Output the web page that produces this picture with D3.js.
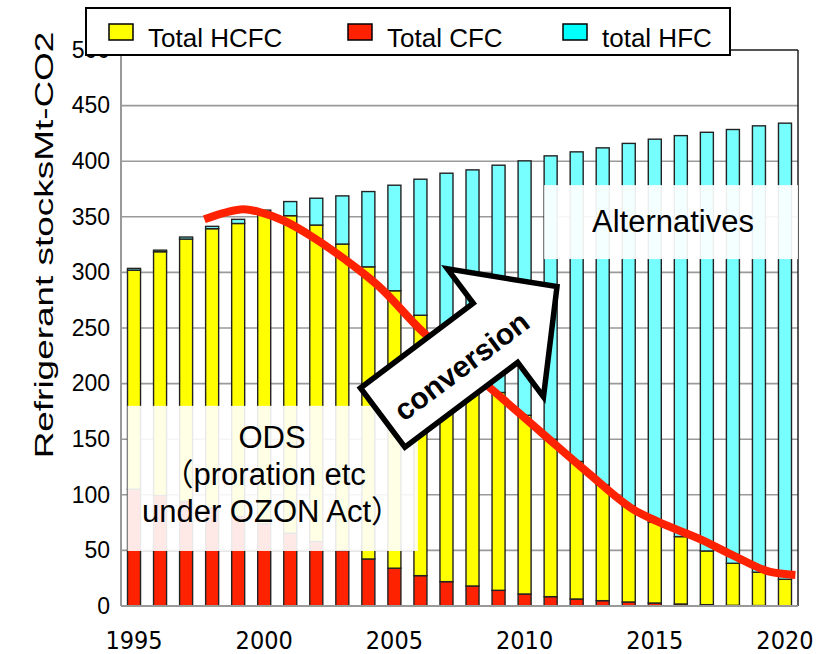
<!DOCTYPE html>
<html>
<head>
<meta charset="utf-8">
<script src="https://cdn.jsdelivr.net/npm/d3@7"></script>
<style>
    body { margin: 0; background: #fff; }
    #chart-area { width: 817px; height: 654px; }
    text { font-family: "Liberation Sans", Arial, sans-serif; fill: #000; }
    .x-label { font-family: "Liberation Sans Narrow", "DejaVu Sans Condensed", sans-serif; }
    .note { font-family: "Liberation Sans", "Noto Sans CJK JP", sans-serif; }
</style>
</head>
<body>
<div id="chart-area"></div>
<script>

// Stocks by year, Mt-CO2
var years = [1995, 1996, 1997, 1998, 1999, 2000, 2001, 2002, 2003, 2004, 2005, 2006, 2007,
    2008, 2009, 2010, 2011, 2012, 2013, 2014, 2015, 2016, 2017, 2018, 2019, 2020];
var cfc = [105, 99.4, 94, 88, 80.5, 74, 65.5, 58, 50, 42.3, 34, 27.3, 21.9,
    18, 14.1, 10.8, 8.4, 6.3, 4.8, 3.6, 2.7, 1.8, 1.2, 0.6, 0.4, 0.2];
var hcfc = [197, 219.2, 236, 251.3, 263.5, 280, 285.5, 284.6, 275.5, 262.7, 249.5, 234.2, 216.6,
    197, 177.9, 160.7, 141.6, 123.7, 104.2, 86.4, 72.7, 60.6, 48.3, 37.8, 30, 23.8];
var hfc = [1.6, 1.4, 1.8, 2.1, 3.7, 2, 12.7, 24.1, 43.3, 67.7, 94.9, 122.3, 150.7,
    177.2, 204.4, 228.8, 254.8, 278.4, 303, 326, 344.4, 360.6, 376.5, 390.1, 401.4, 410.2];

// hand-drawn ODS trend (year, value)
var trendYears = [1997.7, 1998.5, 1999.2, 1999.9, 2000.8, 2001.8, 2003.1, 2004.4, 2006.0, 2008.6,
    2010.65, 2012.45, 2014.2, 2015.1, 2016.8, 2018.1, 2019.4, 2020.4];
var trendValues = [347.7, 353.8, 356.8, 353.8, 346, 332.7, 311.7, 287.6, 248.6, 197.6,
    155.9, 119.5, 86.5, 76, 59.5, 44.4, 30.9, 27.9];

var yTicks = [0, 50, 100, 150, 200, 250, 300, 350, 400, 450, 500];
var xTickYears = [1995, 2000, 2005, 2010, 2015, 2020];

var legendNames = ["Total HCFC", "Total CFC", "total HFC"];
var legendColors = ["#ffff00", "#ff2200", "#00ffff"];


StockChart = function(_parentElement) {
    this.parentElement = _parentElement;
    this.displayData = [];

    this.initVis();
}

StockChart.prototype.initVis = function() {
    var vis = this;

    vis.margin = { top: 50, right: 19, bottom: 48, left: 121 };
    vis.width = 817 - vis.margin.left - vis.margin.right;
    vis.height = 654 - vis.margin.top - vis.margin.bottom;

    vis.root = d3.select('#' + vis.parentElement)
        .append('svg')
        .attr('width', 817)
        .attr('height', 654);

    vis.svg = vis.root.append('g')
        .attr('transform', 'translate(' + vis.margin.left + ',' + vis.margin.top + ')');

    vis.x = d3.scaleBand()
        .domain(years)
        .range([0, vis.width])
        .paddingInner(0.5)
        .paddingOuter(0.25);

    // continuous year scale lined up with the band centres
    vis.xYear = d3.scaleLinear()
        .domain([1995, 2020])
        .range([vis.x(1995) + vis.x.bandwidth() / 2, vis.x(2020) + vis.x.bandwidth() / 2]);

    vis.y = d3.scaleLinear()
        .domain([0, 500])
        .range([vis.height, 0]);

    vis.wrangleData();
}

StockChart.prototype.wrangleData = function() {
    var vis = this;

    vis.displayData = years.map(function(d, i) {
        return { year: d, cfc: cfc[i], hcfc: hcfc[i], hfc: hfc[i] };
    });

    vis.stacked = d3.stack().keys(['cfc', 'hcfc', 'hfc'])(vis.displayData);

    vis.trend = trendYears.map(function(d, i) {
        return { year: d, value: trendValues[i] };
    });

    vis.updateVis();
}

StockChart.prototype.updateVis = function() {
    var vis = this;
    var fills = { cfc: '#ff2200', hcfc: '#ffff00', hfc: '#77ffff' };

    // gridlines
    vis.svg.append('g')
        .selectAll('line')
        .data(yTicks.slice(1))
        .enter()
        .append('line')
        .attr('x1', 0)
        .attr('x2', vis.width)
        .attr('y1', function(d) { return vis.y(d); })
        .attr('y2', function(d) { return vis.y(d); })
        .attr('stroke', '#9a9a9a')
        .attr('stroke-width', 1.6);

    // stacked bars
    vis.svg.append('g')
        .selectAll('g')
        .data(vis.stacked)
        .enter()
        .append('g')
        .attr('fill', function(d) { return fills[d.key]; })
        .selectAll('rect')
        .data(function(d) { return d; })
        .enter()
        .append('rect')
        .attr('x', function(d) { return vis.x(d.data.year); })
        .attr('width', vis.x.bandwidth())
        .attr('y', function(d) { return vis.y(d[1]); })
        .attr('height', function(d) { return vis.y(d[0]) - vis.y(d[1]); })
        .attr('stroke', '#222')
        .attr('stroke-width', 1.4);

    // frame: grey axes left/bottom, dark top/right
    vis.svg.append('line')
        .attr('x1', 0).attr('x2', vis.width)
        .attr('y1', 0).attr('y2', 0)
        .attr('stroke', '#333').attr('stroke-width', 1.5);
    vis.svg.append('line')
        .attr('x1', vis.width).attr('x2', vis.width)
        .attr('y1', 0).attr('y2', vis.height)
        .attr('stroke', '#222').attr('stroke-width', 1.5);
    vis.svg.append('line')
        .attr('x1', 0).attr('x2', 0)
        .attr('y1', 0).attr('y2', vis.height)
        .attr('stroke', '#999').attr('stroke-width', 2);
    vis.svg.append('line')
        .attr('x1', 0).attr('x2', vis.width)
        .attr('y1', vis.height).attr('y2', vis.height)
        .attr('stroke', '#999').attr('stroke-width', 2);

    // Axes
    var yAxis = d3.axisLeft(vis.y).tickValues(yTicks).tickSize(0).tickPadding(11);
    var yg = vis.svg.append('g').call(yAxis);
    yg.select('.domain').remove();
    yg.selectAll('text')
        .attr('font-size', 23)
        .attr('font-family', '"Liberation Sans", Arial, sans-serif')
        .attr('fill', '#000');

    var xAxis = d3.axisBottom(vis.x).tickValues(xTickYears).tickSize(0).tickPadding(25);
    var xg = vis.svg.append('g')
        .attr('transform', 'translate(0,' + vis.height + ')')
        .call(xAxis);
    xg.select('.domain').remove();
    xg.selectAll('text')
        .attr('class', 'x-label')
        .attr('font-size', 25)
        .attr('font-family', '"Liberation Sans Narrow", "DejaVu Sans Condensed", sans-serif')
        .attr('fill', '#000');

    // Axis title (stretched along its length like the original)
    vis.root.append('text')
        .attr('transform', 'translate(53,245) rotate(-90) scale(1.42,1)')
        .attr('text-anchor', 'middle')
        .attr('font-size', 26)
        .text('Refrigerant stocksMt-CO2');

    // ODS note box
    var odsX0 = vis.xYear(1994.75), odsX1 = vis.xYear(2005.9);
    vis.svg.append('rect')
        .attr('x', odsX0)
        .attr('y', vis.y(180))
        .attr('width', odsX1 - odsX0)
        .attr('height', vis.y(49.5) - vis.y(180))
        .attr('fill', '#fff')
        .attr('fill-opacity', 0.9);

    var odsLines = ['ODS', '（proration etc', 'under OZON Act）'];
    vis.svg.append('text')
        .attr('class', 'note')
        .attr('x', vis.xYear(2000.3))
        .attr('y', vis.y(142))
        .attr('text-anchor', 'middle')
        .attr('font-size', 31)
        .selectAll('tspan')
        .data(odsLines)
        .enter()
        .append('tspan')
        .attr('x', function(d, i) { return vis.xYear(i === 1 ? 2000.0 : 2000.3); })
        .attr('dy', function(d, i) { return i === 0 ? 0 : 37; })
        .text(function(d) { return d; });

    // Alternatives note box
    var altX0 = vis.xYear(2010.75);
    vis.svg.append('rect')
        .attr('x', altX0)
        .attr('y', vis.y(378.5))
        .attr('width', vis.width - altX0)
        .attr('height', vis.y(312) - vis.y(378.5))
        .attr('fill', '#fff')
        .attr('fill-opacity', 0.92);

    vis.svg.append('text')
        .attr('class', 'note')
        .attr('x', vis.xYear(2015.7))
        .attr('y', vis.y(336))
        .attr('text-anchor', 'middle')
        .attr('font-size', 31)
        .text('Alternatives');

    // ODS trend line
    var line = d3.line()
        .x(function(d) { return vis.xYear(d.year); })
        .y(function(d) { return vis.y(d.value); })
        .curve(d3.curveMonotoneX);

    vis.svg.append('path')
        .datum(vis.trend)
        .attr('d', line)
        .attr('fill', 'none')
        .attr('stroke', '#ff2200')
        .attr('stroke-width', 8);

    // conversion arrow, drawn along its own axis then rotated
    var shaftLen = 141, tipLen = 218, halfShaft = 37, halfHead = 80;
    var arrowPts = [
        [0, -halfShaft], [shaftLen, -halfShaft], [shaftLen, -halfHead],
        [tipLen, 0],
        [shaftLen, halfHead], [shaftLen, halfShaft], [0, halfShaft]
    ];
    var arrow = vis.svg.append('g')
        .attr('transform', 'translate(' + vis.xYear(2004.55) + ',' + vis.y(169.5) + ') rotate(-36.9)');

    arrow.append('path')
        .attr('d', d3.line()(arrowPts) + 'Z')
        .attr('fill', '#fff')
        .attr('stroke', '#000')
        .attr('stroke-width', 5.5)
        .attr('stroke-linejoin', 'miter');

    arrow.append('text')
        .attr('x', 94)
        .attr('y', 6)
        .attr('dy', '0.35em')
        .attr('text-anchor', 'middle')
        .attr('font-size', 30)
        .attr('font-weight', 'bold')
        .text('conversion');

    // Legend
    var legend = vis.root.append('g');
    legend.append('rect')
        .attr('x', 86).attr('y', 8)
        .attr('width', 644).attr('height', 47)
        .attr('fill', '#fff')
        .attr('stroke', '#000')
        .attr('stroke-width', 2);

    var legendX = [109, 348, 563];
    var item = legend.selectAll('.legend-item')
        .data(legendNames)
        .enter()
        .append('g')
        .attr('class', 'legend-item')
        .attr('transform', function(d, i) { return 'translate(' + legendX[i] + ',0)'; });

    item.append('rect')
        .attr('x', 0).attr('y', 24)
        .attr('width', 24).attr('height', 16)
        .attr('fill', function(d, i) { return legendColors[i]; })
        .attr('stroke', '#000')
        .attr('stroke-width', 1.5);

    item.append('text')
        .attr('x', 39)
        .attr('y', 47)
        .attr('font-size', 26)
        .text(function(d) { return d; });
}

new StockChart('chart-area');

</script>
</body>
</html>
